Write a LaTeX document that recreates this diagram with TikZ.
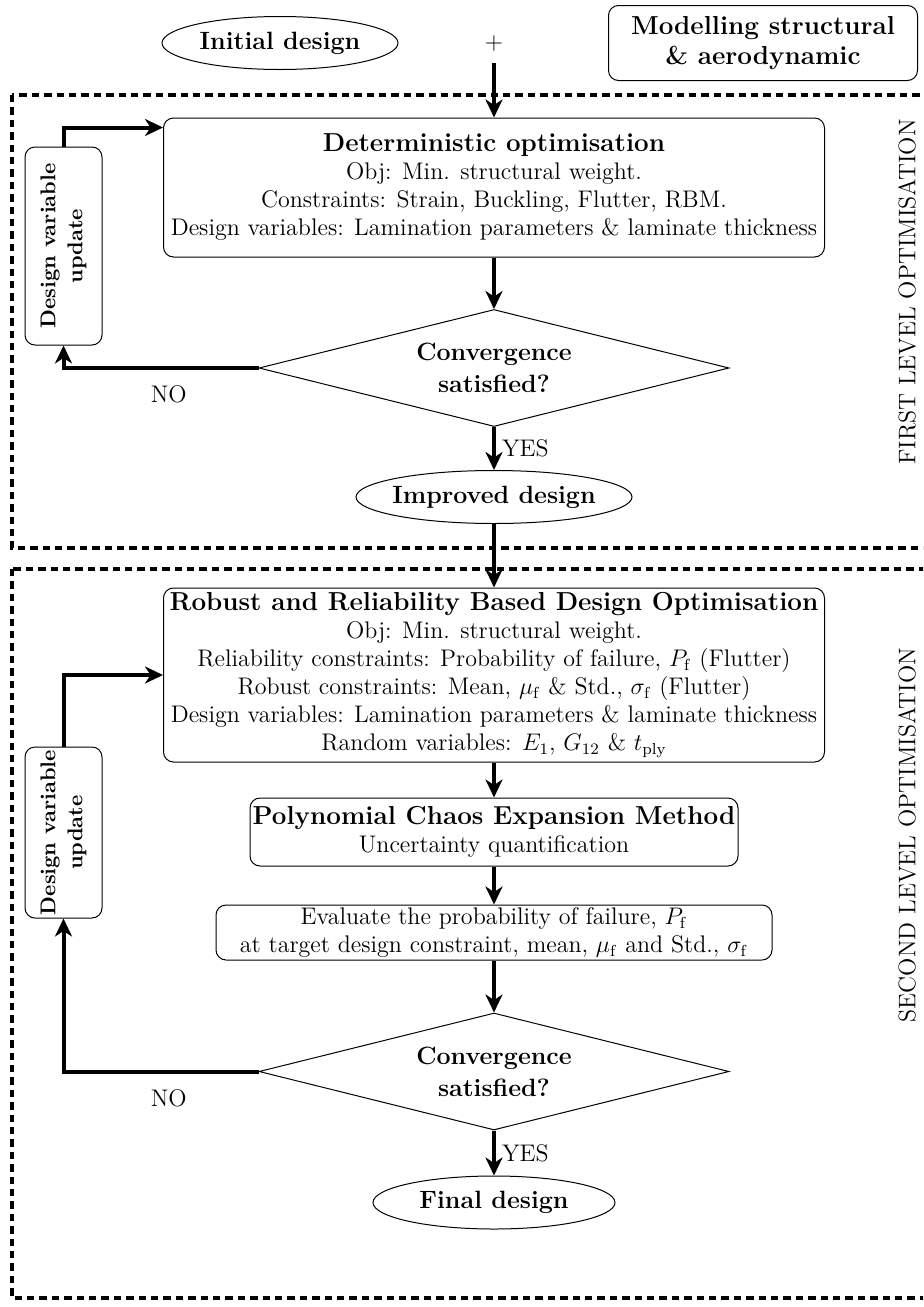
\documentclass[tikz,border=0pt]{standalone}
\usepackage{amsmath}
\usetikzlibrary{shapes.geometric,arrows.meta,calc}
\newcommand{\hdfont}{\fontsize{13}{15}\selectfont\bfseries}
\begin{document}
\begin{tikzpicture}[x=0.5pt,y=-0.5pt,
  every node/.style={font=\fontsize{12}{13.5}\selectfont, align=center, inner sep=0pt},
  bfnode/.style={font=\hdfont},
  rbox/.style={draw, rounded corners=5pt, line width=0.5pt},
  ell/.style={draw, ellipse, line width=0.5pt, inner sep=0pt, minimum height=26.5pt,
    font=\fontsize{12.5}{15}\selectfont\bfseries},
  dvubox/.style={rbox, font=\fontsize{10.7}{13.5}\selectfont\bfseries, rotate=90, minimum height=38.5pt},
  dia/.style={draw, diamond, aspect=4, line width=0.5pt, minimum width=235pt, minimum height=58.5pt,
    font=\fontsize{12.5}{15}\selectfont\bfseries},
  flow/.style={line width=2pt, -{Stealth[length=9pt,width=8.5pt,inset=2.8pt]}},
  frame/.style={line width=1.8pt, dash pattern=on 3.7pt off 2.5pt},
  sidelbl/.style={rotate=90, font=\fontsize{12}{13.5}\selectfont}]
\useasboundingbox (0,0) rectangle (923,1307);
\clip (0,0) rectangle (923,1307);

% frames
\draw[frame] (12,95) rectangle (980,548);
\draw[frame] (12,569) rectangle (980,1298);
\node[sidelbl] (lvl1) at (907,292) {FIRST LEVEL OPTIMISATION};
\node[sidelbl] (lvl2) at (907,835) {SECOND LEVEL OPTIMISATION};

% top
\node[ell, minimum width=118pt] (init) at (280,43) {\makebox[0pt]{Initial design}};
\node (plus) at (494,43) {$+$};
\node[rbox, bfnode, minimum width=154.5pt, minimum height=37.5pt] (model) at (763,43) {Modelling structural\\\& aerodynamic};

% first level
\node[rbox, minimum width=330.5pt, minimum height=69.5pt] (det) at (494,187.5)
  {{\hdfont Deterministic optimisation}\\[0.5pt]
   Obj: Min. structural weight.\\[0.5pt]
   Constraints: Strain, Buckling, Flutter, RBM.\\[0.5pt]
   Design variables: Lamination parameters \& laminate thickness};
\node[dvubox, minimum width=99pt] (dvu1) at (63.5,246) {Design variable\\update};
\node[dia] (dia1) at (494,368) {Convergence\\[1pt]satisfied?};
\node[ell, minimum width=138pt] (impr) at (494,497) {\makebox[0pt]{Improved design}};

% second level
\node[rbox, minimum width=330.5pt, minimum height=87pt] (rbdo) at (494,675)
  {{\hdfont Robust and Reliability Based Design Optimisation}\\[0.5pt]
   Obj: Min. structural weight.\\[0.5pt]
   Reliability constraints: Probability of failure, $P_{\mathrm{f}}$ (Flutter)\\[0.5pt]
   Robust constraints: Mean, $\mu_{\mathrm{f}}$ \& Std., $\sigma_{\mathrm{f}}$ (Flutter)\\[0.5pt]
   Design variables: Lamination parameters \& laminate thickness\\[0.5pt]
   Random variables: $E_1$, $G_{12}$ \& $t_{\mathrm{ply}}$};
\node[dvubox, minimum width=85.5pt] (dvu2) at (63.5,832.5) {Design variable\\update};
\node[rbox, minimum width=244pt, minimum height=34pt] (pce) at (494,832)
  {{\hdfont Polynomial Chaos Expansion Method}\\[0.5pt] Uncertainty quantification};
\node[rbox, minimum width=278pt, minimum height=27.5pt] (eval) at (494,932.5)
  {Evaluate the probability of failure, $P_{\mathrm{f}}$\\[0.5pt]
   at target design constraint, mean, $\mu_{\mathrm{f}}$ and Std., $\sigma_{\mathrm{f}}$};
\node[dia] (dia2) at (494,1071.5) {Convergence\\[1pt]satisfied?};
\node[ell, minimum width=121pt] (final) at (494,1202.5) {\makebox[0pt]{Final design}};

% connectors
\coordinate (ps) at (494,63);
\draw[flow] (ps) -- (det.north);
\draw[flow] (dvu1.east) |- ([yshift=-5pt]det.north west);
\draw[flow] (det.south) -- (dia1.north);
\draw[flow] (dia1.west) -| node[pos=0.23, below=8pt] (no1) {NO} (dvu1.west);
\draw[flow] (dia1.south) -- node[right=3pt] (yes1) {YES} (impr.north);
\draw[flow] (impr.south) -- (rbdo.north);
\draw[flow] (rbdo.south) -- (pce.north);
\draw[flow] (pce.south) -- (eval.north);
\draw[flow] (eval.south) -- (dia2.north);
\draw[flow] (dia2.west) -| node[pos=0.23, below=8pt] (no2) {NO} (dvu2.west);
\draw[flow] (dvu2.east) |- (rbdo.west);
\draw[flow] (dia2.south) -- node[right=3pt] (yes2) {YES} (final.north);
\end{tikzpicture}
\end{document}
